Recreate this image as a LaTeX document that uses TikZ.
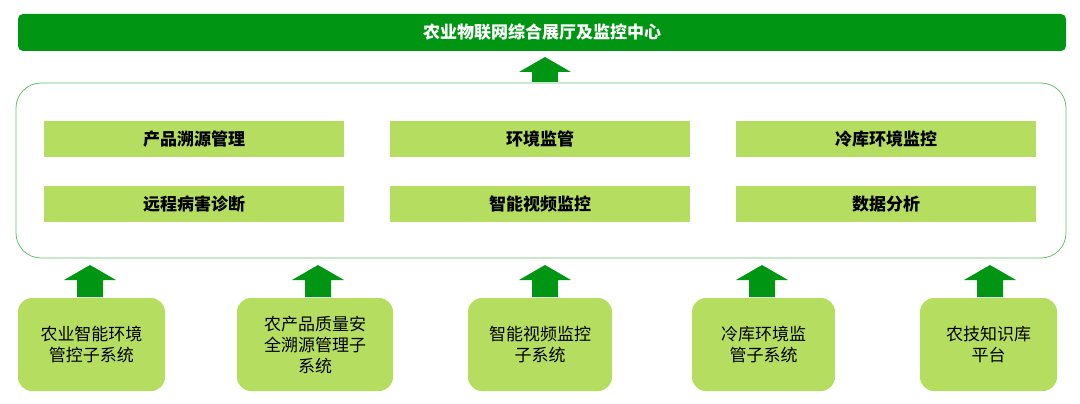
\documentclass[tikz,border=0pt]{standalone}
\usepackage{fontspec}
\setmainfont{Noto Sans CJK SC}
\definecolor{darkgrn}{RGB}{0,150,20}
\definecolor{litegrn}{RGB}{181,221,95}
\tikzset{
  func/.style={fill=litegrn, minimum width=300pt, minimum height=36pt, font=\bfseries\fontsize{17}{20}\selectfont, inner sep=0pt},
  sub/.style={fill=litegrn, rounded corners=14pt, minimum height=93pt, font=\fontsize{17}{21}\selectfont, align=center, inner sep=0pt},
  uparrow/.style={fill=darkgrn, draw=none}
}
\newcommand{\uparr}[3]{% x, ybottom, ytop
  \fill[uparrow] (#1-13,#2) -- (#1-13,#3+15) -- (#1-26,#3+15) -- (#1,#3) -- (#1+26,#3+15) -- (#1+13,#3+15) -- (#1+13,#2) -- cycle;}
\begin{document}
\begin{tikzpicture}[x=1pt,y=-1pt]
\useasboundingbox (0,0) rectangle (1080,404);
% top bar
\node[fill=darkgrn, rounded corners=5pt, minimum width=1048pt, minimum height=37pt, inner sep=0pt,
  text=white, font=\bfseries\fontsize{17}{20}\selectfont] (hall) at (542,32.5) {农业物联网综合展厅及监控中心};
% platform
\draw[draw=darkgrn!60, rounded corners=25pt, line width=0.8pt] (16,83) rectangle (1066,258);
\node[func] (trace) at (194,139) {产品溯源管理};
\node[func] (diag) at (194,204) {远程病害诊断};
\node[func] (envm) at (540,139) {环境监管};
\node[func] (video) at (540,204) {智能视频监控};
\node[func] (cold) at (886,139) {冷库环境监控};
\node[func] (data) at (886,204) {数据分析};
% subsystems
\node[sub, minimum width=147pt] (s1) at (91.5,344.5) {农业智能环境\\管控子系统};
\node[sub, minimum width=156pt] (s2) at (315,344.5) {农产品质量安\\全溯源管理子\\系统};
\node[sub, minimum width=144pt] (s3) at (540,344.5) {智能视频监控\\子系统};
\node[sub, minimum width=143pt] (s4) at (763.5,344.5) {冷库环境监\\管子系统};
\node[sub, minimum width=137pt] (s5) at (988.5,344.5) {农技知识库\\平台};
% arrows
\uparr{545}{82}{57}
\foreach \ax in {90,318,545,762,990} {\uparr{\ax}{297}{265}}
\end{tikzpicture}
\end{document}
